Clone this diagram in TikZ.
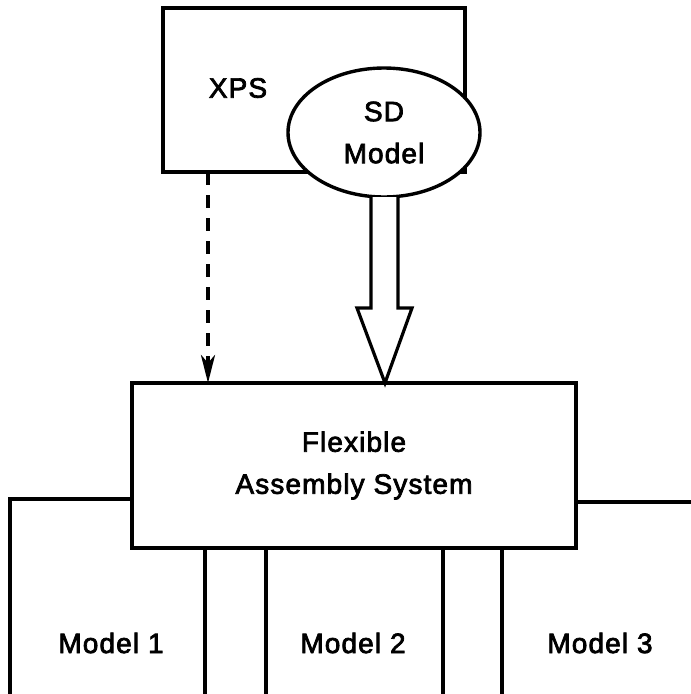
\documentclass[tikz,border=0pt]{standalone}
\usepackage{fontspec}
\newfontfamily\lblfont{Liberation Sans}[FakeBold=2.6,LetterSpace=4]
\usetikzlibrary{arrows.meta,shapes.geometric,calc}
\tikzset{
  boxline/.style={line width=3.4pt},
  thinline/.style={line width=3.2pt},
  lbl/.style={font=\lblfont\fontsize{28}{42}\selectfont, inner sep=0pt, align=center},
  dasharrow/.style={line width=4pt, dash pattern=on 13pt off 10pt,
    -{Stealth[length=28pt,width=14pt,inset=8pt]}},
  hollowarrow/.style={line width=3.2pt, line join=miter, fill=white},
}
\begin{document}
\begin{tikzpicture}[x=1pt,y=-1pt]
\useasboundingbox (0,0) rectangle (691,694);
% XPS box
\node[draw, boxline, minimum width=302pt, minimum height=164pt, inner sep=0pt, outer sep=0pt] (xps) at (314,90) {};
\node[lbl] (xpslbl) at (238,88) {XPS};
% SD Model ellipse
\node[ellipse, draw, boxline, fill=white, minimum width=192pt, minimum height=129pt, inner sep=0pt, outer sep=0pt, lbl] (sd) at (384,132.5) {SD\\Model};
% FAS box
\node[draw, boxline, minimum width=444pt, minimum height=165pt, inner sep=0pt, outer sep=0pt, lbl] (fas) at (354,465.5) {Flexible\\Assembly System};
% dashed arrow
\coordinate (dstart) at (208,172);
\draw[dasharrow] (dstart) -- (dstart |- fas.north);
% hollow arrow
\coordinate (htip) at (385,383);
\draw[hollowarrow] (371,197) -- (371,308) -- (357,308) -- (htip) -- (412,308) -- (398,308) -- (398,197);
% Model boxes
\coordinate (m1a) at (132,499);
\coordinate (m1b) at (10,499);
\coordinate (m1c) at (10,694);
\draw[thinline] (m1a) -- (m1b) -- (m1c);
\coordinate (m1r) at (205,548);
\draw[thinline] (m1r) -- (205,694);
\coordinate (m2l) at (266,548);
\coordinate (m2r) at (443,548);
\draw[thinline] (m2l) -- (266,694);
\draw[thinline] (m2r) -- (443,694);
\coordinate (m3l) at (502,548);
\draw[thinline] (m3l) -- (502,694);
\coordinate (m3a) at (576,502);
\draw[thinline] (m3a) -- (691,502);
\node[lbl] (model1) at (111,643) {Model 1};
\node[lbl] (model2) at (353,643) {Model 2};
\node[lbl] (model3) at (600,643) {Model 3};
\end{tikzpicture}
\end{document}
